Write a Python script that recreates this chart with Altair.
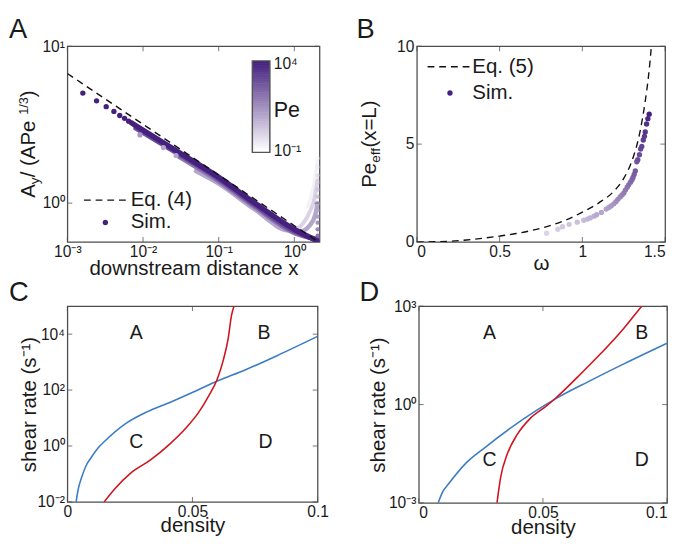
import altair as alt
import pandas as pd

FONT = "Liberation Sans"
INK = "#1a1a1a"
BOX = "#4d4d4d"
DARK = "#45207f"
BLUE = "#3b7dc4"
RED = "#d0131e"

SUP = ("['\u207b\u00b3','\u207b\u00b2','\u207b\u00b9','\u2070','\u00b9','\u00b2',"
       "'\u00b3','\u2074','\u2075'][round(log(datum.value)/LN10)+3]")
LOG_LABEL = "'10' + " + SUP

# ---------------- Panel A data ----------------
a_eq_x = [0.001, 2.0]
a_eq_y = [6.7, 0.573]

a_dot_x = [0.0016, 0.00243, 0.00326, 0.00412, 0.00492, 0.0057, 0.00645]
a_dot_y = [5.03, 4.49, 4.12, 3.84, 3.62, 3.47, 3.33]
a_dot_pe = [10000, 10000, 10000, 10000, 10000, 10000, 10000]

a_soft_x = [0.0091, 0.0186, 0.0273]
a_soft_y = [2.72, 2.26, 2.01]
a_soft_pe = [20, 10, 10]

a_band_pe = [0.2, 1, 10, 100, 1000, 10000]
a_band_x = [
    [1.5, 1.8, 2.02],
    [0.6, 1.0, 1.3, 1.6, 1.85, 2.02],
    [0.05, 0.1, 0.3, 0.8, 1.2, 1.6, 1.9, 2.02],
    [0.03, 0.1, 0.3, 1.0, 2.0],
    [0.008, 0.03, 0.1, 0.3, 1.0, 2.0],
    [0.007, 0.03, 0.1, 0.3, 1.0, 2.0],
]
a_band_y = [
    [0.95, 1.3, 1.9],
    [0.76, 0.68, 0.74, 0.88, 1.08, 1.4],
    [1.6, 1.33, 0.91, 0.67, 0.66, 0.72, 0.85, 1.0],
    [1.98, 1.38, 0.945, 0.645, 0.59],
    [3.0, 2.04, 1.42, 0.97, 0.66, 0.58],
    [3.25, 2.1, 1.46, 1.0, 0.68, 0.575],
]
a_band_w = [3.5, 4, 4.5, 5, 5, 5.5]

a_col_x = [2.03, 2.03, 2.03, 2.03, 2.03, 2.03, 2.03, 2.03, 2.03, 2.03, 2.03, 2.03]
a_col_y = [0.62, 0.68, 0.75, 0.82, 0.9, 1.0, 1.1, 1.22, 1.35, 1.5, 1.7, 1.93]
a_col_pe = [300, 100, 50, 20, 10, 5, 3, 2, 1, 0.6, 0.3, 0.15]

a_leg_labels = ["Eq. (4)", "Sim."]

# colour bar (Pe from 10^4 at top to 10^-1 at bottom)
cb_exp = [4.0, 3.875, 3.75, 3.625, 3.5, 3.375, 3.25, 3.125, 3.0, 2.875, 2.75, 2.625,
          2.5, 2.375, 2.25, 2.125, 2.0, 1.875, 1.75, 1.625, 1.5, 1.375, 1.25, 1.125,
          1.0, 0.875, 0.75, 0.625, 0.5, 0.375, 0.25, 0.125, 0.0, -0.125, -0.25,
          -0.375, -0.5, -0.625, -0.75, -0.875, -1.0]
cb_labels = ["10\u2074", "10\u207b\u00b9"]

# ---------------- Panel B data ----------------
b_eq_w = [0, 0.1, 0.2, 0.3, 0.4, 0.5, 0.6, 0.7, 0.8, 0.9, 1.0, 1.1, 1.2, 1.25,
          1.3, 1.35, 1.38, 1.40, 1.42, 1.435, 1.45]
b_eq_pe = [0, 0.01, 0.04, 0.1, 0.19, 0.3, 0.43, 0.6, 0.82, 1.12, 1.52, 2.0, 2.68,
           3.25, 4.15, 5.7, 7.2, 8.5, 10.3, 12.0, 14.0]

b_sim_w = [0.784, 0.852, 0.88, 0.92, 0.969, 1.008, 1.03, 1.047, 1.07, 1.086,
           1.115, 1.144, 1.16, 1.174, 1.19, 1.203, 1.215, 1.228, 1.24, 1.251,
           1.26, 1.271, 1.28, 1.291, 1.30, 1.306, 1.313, 1.320, 1.329, 1.335,
           1.345, 1.352, 1.359, 1.368, 1.375, 1.380, 1.388, 1.396, 1.404]
b_sim_pe = [0.45, 0.65, 0.78, 0.90, 1.01, 1.11, 1.17, 1.23, 1.32, 1.39,
            1.51, 1.68, 1.76, 1.84, 1.95, 2.06, 2.18, 2.30, 2.40, 2.50,
            2.65, 2.80, 2.92, 3.05, 3.18, 3.30, 3.45, 3.63, 4.10, 4.20,
            4.46, 4.75, 4.88, 5.21, 5.40, 5.62, 6.03, 6.30, 6.53]
b_sim_col = [1, 1.3, 1.6, 2, 2.5, 3.2, 4, 5, 6.3, 8,
             10, 13, 16, 20, 25, 32, 40, 50, 63, 80,
             100, 130, 160, 200, 250, 320, 400, 500, 630, 800,
             1000, 1300, 1600, 2000, 2500, 3200, 4000, 6300, 10000]
b_leg_labels = ["Eq. (5)", "Sim."]

# ---------------- Panel C data ----------------
c_blue_x = [0.0035, 0.0042, 0.00585, 0.0075, 0.0097, 0.012, 0.015, 0.0227, 0.0318,
            0.0409, 0.0513, 0.0604, 0.0708, 0.0838, 0.1]
c_blue_y = [0.01, 0.025, 0.083, 0.2, 0.41, 0.8, 1.5, 5.8, 16.6, 36, 93, 219, 513,
            1700, 8300]
c_red_x = [0.0147, 0.0189, 0.0253, 0.0331, 0.0409, 0.0474, 0.0526, 0.0565, 0.0598,
           0.0623, 0.0643, 0.0656, 0.0668]
c_red_y = [0.01, 0.029, 0.107, 0.31, 1.17, 4.4, 16.6, 62, 234, 1150, 7240, 46800,
           112000]
c_lab = ["A", "B", "C", "D"]
c_lab_x = [0.0275, 0.0786, 0.0275, 0.0792]
c_lab_y = [11200, 11200, 1.32, 1.32]

# ---------------- Panel D data ----------------
d_blue_x = [0.0078, 0.0095, 0.0121, 0.0187, 0.0265, 0.0369, 0.0474, 0.0552, 0.0683,
            0.0826, 0.1]
d_blue_y = [0.001, 0.0021, 0.00389, 0.0155, 0.0479, 0.1905, 0.661, 1.514, 5.01,
            17.4, 74.1]
d_red_x = [0.0315, 0.033, 0.0356, 0.0396, 0.0448, 0.0513, 0.0552, 0.0657, 0.0735,
           0.0814, 0.0866, 0.09]
d_red_y = [0.001, 0.00617, 0.0302, 0.120, 0.372, 0.891, 1.585, 9.33, 37.2, 166,
           501, 1047]
d_lab = ["A", "B", "C", "D"]
d_lab_x = [0.0285, 0.0898, 0.0285, 0.0898]
d_lab_y = [155, 155, 0.0195, 0.0195]

# ---------------- helpers ----------------
color_scale = alt.Scale(type="log", domain=[0.1, 10000], range=["#ffffff", DARK],
                        interpolate="rgb")
stroke_scale = alt.Scale(type="log", domain=[0.1, 10000], range=["#ffffff", DARK],
                         interpolate="rgb")


def pe_color(field):
    return alt.Color(f"{field}:Q", scale=color_scale, legend=None)


def pe_stroke(field):
    return alt.Stroke(f"{field}:Q", scale=stroke_scale, legend=None)


CW = {'A': 0.667, 'y': 0.5, ' ': 0.278, '/': 0.278, '(': 0.333, ')': 0.333,
      'P': 0.667, 'e': 0.556, '1': 0.556, '3': 0.556, 'f': 0.278, 'x': 0.5,
      '=': 0.584, 'L': 0.556}


def text_w(s, size):
    return sum(CW[c] for c in s) * size


def rich_vtitle(pieces, xpos, ycenter):
    total = sum(text_w(t, s) for t, s, _ in pieces)
    off = -total / 2
    layers = []
    for t, s, dy in pieces:
        layers.append(
            alt.Chart(pd.DataFrame({"t": [t]})).mark_text(
                angle=270, align="left", baseline="alphabetic", font=FONT,
                fontSize=s, color=INK, dx=off, dy=dy
            ).encode(text="t:N", x=alt.value(xpos), y=alt.value(ycenter))
        )
        off += text_w(t, s)
    return layers


def box_ticks(xvals, yvals, xenc, yenc, W, H):
    xdf = pd.DataFrame({"tv": xvals})
    ydf = pd.DataFrame({"tv": yvals})
    kw = dict(size=5, thickness=1.1, color=BOX)
    return [
        alt.Chart(xdf).mark_tick(orient="vertical", **kw).encode(x=xenc("tv"), y=alt.value(H - 2.5)),
        alt.Chart(xdf).mark_tick(orient="vertical", **kw).encode(x=xenc("tv"), y=alt.value(2.5)),
        alt.Chart(ydf).mark_tick(orient="horizontal", **kw).encode(y=yenc("tv"), x=alt.value(2.5)),
        alt.Chart(ydf).mark_tick(orient="horizontal", **kw).encode(y=yenc("tv"), x=alt.value(W - 2.5)),
    ]


def letter(text, dx, dy):
    return alt.Chart(pd.DataFrame({"t": [text]})).mark_text(
        align="left", baseline="top", font=FONT, fontSize=28, color=INK
    ).encode(text="t:N", x=alt.value(dx), y=alt.value(dy))


def colorbar(x0, y0, w, h):
    n = len(cb_exp)
    step = h / n
    df = pd.DataFrame({
        "cb_pe": [10 ** e for e in cb_exp],
        "py0": [y0 + i * step for i in range(n)],
        "py1": [y0 + (i + 1) * step + 0.6 for i in range(n)],
    })
    bar = alt.Chart(df).mark_rect(stroke=None).encode(
        x=alt.value(x0), x2=alt.value(x0 + w),
        y=alt.Y("py0:Q", scale=None, axis=None), y2="py1:Q",
        color=pe_color("cb_pe"),
    )
    frame = alt.Chart(pd.DataFrame({"t": ["Pe"]})).mark_rect(
        fill=None, stroke="#555555", strokeWidth=1.5
    ).encode(x=alt.value(x0), x2=alt.value(x0 + w), y=alt.value(y0), y2=alt.value(y0 + h))
    labs = alt.Chart(pd.DataFrame({"t": cb_labels, "py": [y0 + 3, y0 + h - 1]})).mark_text(
        align="left", baseline="middle", font=FONT, fontSize=16, color=INK
    ).encode(text="t:N", x=alt.value(x0 + w + 4), y=alt.Y("py:Q", scale=None, axis=None))
    return [bar, frame, labs]


# ---------------- Panel A ----------------
WA, HA = 259, 201
ax_a_x = alt.Axis(title="downstream distance x", values=[0.001, 0.01, 0.1, 1],
                  labelExpr=LOG_LABEL, titleY=33, titleBaseline="alphabetic", labelFlush=False)
ax_a_y = alt.Axis(title=None, values=[1, 10], labelExpr=LOG_LABEL, labelFlush=False)
sc_a_x = alt.Scale(type="log", domain=[0.001, 2.15], nice=False)
sc_a_y = alt.Scale(type="log", domain=[0.565, 10], nice=False)


def xa(f):
    return alt.X(f"{f}:Q", scale=sc_a_x, axis=ax_a_x)


def ya(f):
    return alt.Y(f"{f}:Q", scale=sc_a_y, axis=ax_a_y)


a_layers = []
for pe, xs, ys, sw in zip(a_band_pe, a_band_x, a_band_y, a_band_w):
    df = pd.DataFrame({"x": xs, "y": ys, "pe_line": [pe] * len(xs)})
    a_layers.append(
        alt.Chart(df).mark_line(strokeWidth=sw, strokeCap="round", strokeJoin="round",
                                clip=True, interpolate="monotone")
        .encode(x=xa("x"), y=ya("y"), stroke=pe_stroke("pe_line"))
    )

a_layers.append(
    alt.Chart(pd.DataFrame({"x": a_soft_x, "y": a_soft_y, "pe": a_soft_pe}))
    .mark_circle(size=28, opacity=1).encode(x=xa("x"), y=ya("y"), color=pe_color("pe"))
)
a_layers.append(
    alt.Chart(pd.DataFrame({"x": a_col_x, "y": a_col_y, "pe": a_col_pe}))
    .mark_circle(size=20, opacity=0.9, clip=True).encode(x=xa("x"), y=ya("y"), color=pe_color("pe"))
)
a_layers.append(
    alt.Chart(pd.DataFrame({"x": a_dot_x, "y": a_dot_y, "pe": a_dot_pe}))
    .mark_circle(size=30, opacity=1).encode(x=xa("x"), y=ya("y"), color=pe_color("pe"))
)
a_layers.append(
    alt.Chart(pd.DataFrame({"x": a_eq_x, "y": a_eq_y}))
    .mark_line(color="#111111", strokeWidth=1.4, strokeDash=[7, 5], clip=True)
    .encode(x=xa("x"), y=ya("y"))
)
a_layers.append(
    alt.Chart(pd.DataFrame({"t": [a_leg_labels[0]]})).mark_rule(
        color="#111111", strokeWidth=1.4, strokeDash=[7, 5])
    .encode(x=alt.value(17), x2=alt.value(60), y=alt.value(158))
)
a_layers.append(
    alt.Chart(pd.DataFrame({"t": [a_leg_labels[1]]})).mark_circle(size=30, opacity=1, color=DARK)
    .encode(x=alt.value(39), y=alt.value(181))
)
a_layers.append(
    alt.Chart(pd.DataFrame({"t": a_leg_labels, "yy": [158, 181]})).mark_text(
        align="left", baseline="middle", font=FONT, fontSize=21, color=INK)
    .encode(text="t:N", x=alt.value(65), y=alt.Y("yy:Q", scale=None, axis=None))
)
a_layers += colorbar(190, 15, 18, 94)
a_layers.append(
    alt.Chart(pd.DataFrame({"t": ["Pe"]})).mark_text(
        align="left", baseline="middle", font=FONT, fontSize=22, color=INK)
    .encode(text="t:N", x=alt.value(212), y=alt.value(66))
)
a_layers += rich_vtitle([("A", 21, 0), ("y", 14, 4), (" / (APe", 21, 0), ("1/3", 13, -7), (")", 21, 0)], -33, HA / 2)
a_layers += box_ticks([0.001, 0.01, 0.1, 1], [1, 10], xa, ya, WA, HA)
a_layers.append(letter("A", -60, -31))
panel_a = alt.layer(*a_layers).properties(width=WA, height=HA)

# ---------------- Panel B ----------------
WB, HB = 255, 201
ax_b_x = alt.Axis(title="\u03c9", values=[0, 0.5, 1, 1.5], format="~g",
                  titleY=28, titleBaseline="alphabetic")
ax_b_y = alt.Axis(title=None, values=[0, 5, 10], format="d", labelFlush=False)
sc_b_x = alt.Scale(domain=[0, 1.5], nice=False)
sc_b_y = alt.Scale(domain=[0, 10], nice=False)


def xb(f):
    return alt.X(f"{f}:Q", scale=sc_b_x, axis=ax_b_x)


def yb(f):
    return alt.Y(f"{f}:Q", scale=sc_b_y, axis=ax_b_y)


b_layers = [
    alt.Chart(pd.DataFrame({"w": b_eq_w, "p": b_eq_pe}))
    .mark_line(color="#111111", strokeWidth=1.4, strokeDash=[7, 5], clip=True, interpolate="monotone")
    .encode(x=xb("w"), y=yb("p")),
    alt.Chart(pd.DataFrame({"w": b_sim_w, "p": b_sim_pe, "pe": b_sim_col}))
    .mark_circle(size=30, opacity=1).encode(x=xb("w"), y=yb("p"), color=pe_color("pe")),
    alt.Chart(pd.DataFrame({"t": [b_leg_labels[0]]})).mark_rule(
        color="#111111", strokeWidth=1.4, strokeDash=[7, 5])
    .encode(x=alt.value(11), x2=alt.value(54), y=alt.value(21)),
    alt.Chart(pd.DataFrame({"t": [b_leg_labels[1]]})).mark_circle(size=30, opacity=1, color=DARK)
    .encode(x=alt.value(34), y=alt.value(48)),
    alt.Chart(pd.DataFrame({"t": b_leg_labels, "yy": [21, 48]})).mark_text(
        align="left", baseline="middle", font=FONT, fontSize=21, color=INK)
    .encode(text="t:N", x=alt.value(57), y=alt.Y("yy:Q", scale=None, axis=None)),
]
b_layers += rich_vtitle([("Pe", 21, 0), ("eff", 14, 4), ("(x=L)", 21, 0)], -42, HB / 2)
b_layers += box_ticks([0, 0.5, 1, 1.5], [0, 5, 10], xb, yb, WB, HB)
b_layers.append(letter("B", -62, -31))
panel_b = alt.layer(*b_layers).properties(width=WB, height=HB)


# ---------------- Panels C and D ----------------
def phase_panel(W, H, ydom, yticks, bx, by, rx, ry, labs, lx, ly, let, ldx, ytx, xty, flush):
    axx = alt.Axis(title="density", values=[0, 0.05, 0.1], format="~g",
                   titleY=xty, titleBaseline="alphabetic", labelFlush=flush)
    axy = alt.Axis(title="shear rate (s\u207b\u00b9)", values=yticks, labelExpr=LOG_LABEL,
                   titleX=ytx, titleBaseline="alphabetic", labelFlush=False)
    scx = alt.Scale(domain=[0, 0.1], nice=False)
    scy = alt.Scale(type="log", domain=ydom, nice=False)

    def xe(f):
        return alt.X(f"{f}:Q", scale=scx, axis=axx)

    def ye(f):
        return alt.Y(f"{f}:Q", scale=scy, axis=axy)

    layers = [
        alt.Chart(pd.DataFrame({"x": bx, "y": by})).mark_line(
            color=BLUE, strokeWidth=1.6, clip=True, interpolate="monotone")
        .encode(x=xe("x"), y=ye("y")),
        alt.Chart(pd.DataFrame({"x": rx, "y": ry})).mark_line(
            color=RED, strokeWidth=1.6, clip=True, interpolate="monotone")
        .encode(x=xe("x"), y=ye("y")),
        alt.Chart(pd.DataFrame({"x": lx, "y": ly, "t": labs})).mark_text(
            font=FONT, fontSize=20, color=INK, baseline="middle")
        .encode(x=xe("x"), y=ye("y"), text="t:N"),
    ]
    layers += box_ticks([0, 0.05, 0.1], yticks, xe, ye, W, H)
    layers.append(letter(let, ldx, -27))
    return alt.layer(*layers).properties(width=W, height=H)


panel_c = phase_panel(257, 201, [0.01, 100000], [0.01, 1, 100, 10000],
                      c_blue_x, c_blue_y, c_red_x, c_red_y, c_lab, c_lab_x, c_lab_y, "C", -60,
                      -33, 30, False)
panel_d = phase_panel(255, 202, [0.001, 1000], [0.001, 1, 1000],
                      d_blue_x, d_blue_y, d_red_x, d_red_y, d_lab, d_lab_x, d_lab_y, "D", -61,
                      -35, 32, True)

row1 = alt.hconcat(panel_a, panel_b, spacing=36)
row2 = alt.hconcat(panel_c, panel_d, spacing=30)

chart = alt.vconcat(row1, row2, spacing=0).properties(padding=0).configure_view(
    stroke=BOX, strokeWidth=1.3
).configure_axis(
    domain=False, ticks=False, grid=False,
    labelFont=FONT, labelFontSize=16, labelColor=INK, labelPadding=3,
    titleFont=FONT, titleFontSize=21, titleFontWeight="normal", titleColor=INK,
    titlePadding=0,
).configure_axisX(labelPadding=2)

chart.save("out.html", embed_options={"renderer": "svg", "actions": False})
